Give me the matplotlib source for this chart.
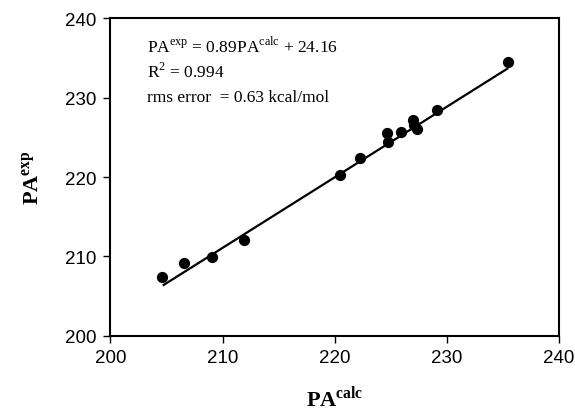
import numpy as np
import matplotlib
matplotlib.use("Agg")
import matplotlib.pyplot as plt

plt.rcParams['mathtext.fontset'] = 'custom'
plt.rcParams['mathtext.rm'] = 'Liberation Serif'
plt.rcParams['mathtext.bf'] = 'Liberation Serif:bold'

# calculated vs experimental proton affinities
pa_calc = [204.6, 206.6, 209.1, 211.9, 220.5, 222.3, 224.7, 224.8, 225.9, 227.0, 227.1, 227.3, 229.1, 235.5]
pa_exp = [207.4, 209.2, 209.9, 212.0, 220.3, 222.4, 225.5, 224.4, 225.7, 227.2, 226.6, 226.0, 228.4, 234.5]

slope = 0.89
intercept = 24.16
fit_x = [204.75, 235.4]

fig = plt.figure(figsize=(5.75, 4.14), dpi=100)
ax = fig.add_axes([0.192, 0.187, 0.78, 0.766])

ax.scatter(pa_calc, pa_exp, s=50, color='black', zorder=3)
fx = np.array(fit_x)
ax.plot(fx, slope * fx + intercept, color='black', lw=1.6)

ax.set_xlim(200, 240)
ax.set_ylim(200, 240)
ax.set_xticks([200, 210, 220, 230, 240])
ax.set_yticks([200, 210, 220, 230, 240])
for lab in ax.get_xticklabels() + ax.get_yticklabels():
    lab.set_fontfamily('Liberation Sans')
    lab.set_fontsize(13.5)
ax.tick_params(direction='out', length=5, width=1, pad=5)
for s in ax.spines.values():
    s.set_linewidth(1.5)

ax.set_xlabel(r'$\mathbf{PA}^{\mathbf{calc}}$', fontsize=16, labelpad=12)
ax.set_ylabel(r'$\mathbf{PA}^{\mathbf{exp}}$', fontsize=16, labelpad=16)

tf = dict(family='Liberation Serif', fontsize=12.5, transform=fig.transFigure, va='center')
fig.text(147 / 575, 1 - 46 / 414, r'PA$^{\rm exp}$ = 0.89PA$^{\rm calc}$ + 24.16', **tf)
fig.text(147 / 575, 1 - 72 / 414, r'R$^{2}$ = 0.994', **tf)
fig.text(147 / 575, 1 - 98 / 414, 'rms error  = 0.63 kcal/mol', **tf)

fig.savefig('out.png', dpi=100)
